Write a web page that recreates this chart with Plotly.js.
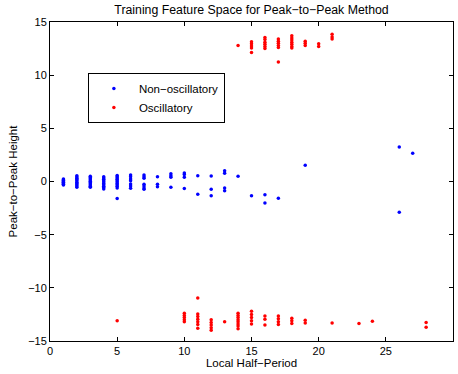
<!DOCTYPE html>
<html>
<head>
<meta charset="utf-8">
<script src="https://cdn.plot.ly/plotly-3.0.1.min.js"></script>
<style>
  html, body { margin: 0; padding: 0; background: #fff; }
  #chart { width: 458px; height: 374px; }
</style>
</head>
<body>
<div id="chart"></div>
<script>
// Non-oscillatory training samples: half-period per column, peak-to-peak heights
const nonOscPeriods = [1, 2, 3, 4, 5, 6, 7, 8, 9, 10, 11, 12, 13, 14, 15, 16, 17, 19, 26, 27];
const nonOscHeights = [
  [0.23, 0.16, 0.1, 0.04, -0.02, -0.08, -0.14, -0.2, -0.27, -0.34],
  [0.55, 0.42, 0.3, 0.18, 0.06, -0.06, -0.18, -0.3, -0.42, -0.55],
  [0.5, 0.38, 0.26, 0.14, 0.02, -0.1, -0.22, -0.34, -0.45, -0.55],
  [0.45, 0.33, 0.2, 0.08, -0.05, -0.18, -0.3, -0.44, -0.57, -0.7],
  [0.57, 0.45, 0.32, 0.2, 0.08, -0.05, -0.18, -0.3, -0.45, -0.6, -1.6],
  [0.61, 0.45, 0.24, 0.08, -0.24, -0.42, -0.64],
  [0.6, 0.45, 0.3, -0.25, -0.42, -0.6, -0.72],
  [0.45, -0.25, -0.5],
  [0.72, 0.55, 0.4, -0.55],
  [0.8, 0.65, 0.4, -0.65],
  [0.55, -1.2],
  [0.52, -0.73, -1.33],
  [1.0, 0.77, -0.61, -0.86],
  [0.49],
  [-1.33],
  [-1.24, -2.02],
  [-1.58],
  [1.52],
  [3.25, -2.9],
  [2.65]
];

// Oscillatory training samples
const oscPeriods = [14, 15, 16, 17, 18, 19, 20, 21,
                    5, 10, 11, 12, 13, 14, 15, 16, 17, 18, 19, 21, 23, 24, 28];
const oscHeights = [
  [12.8],
  [13.15, 12.95, 12.75, 12.55, 12.12],
  [13.55, 13.35, 13.1, 12.9, 12.7, 12.5],
  [13.4, 13.2, 13.0, 12.8, 12.6, 11.25],
  [13.7, 13.5, 13.3, 13.1, 12.9, 12.7, 12.55],
  [13.2, 13.0, 12.8],
  [12.95, 12.7],
  [13.85, 13.6, 13.4],
  [-13.1],
  [-12.4, -12.6, -12.8, -13.0, -13.2],
  [-10.95, -12.45, -12.7, -12.95, -13.2, -13.45, -13.8],
  [-13.0, -13.25, -13.5, -13.75, -14.0],
  [-13.2],
  [-12.4, -12.6, -12.8, -13.0, -13.2, -13.4, -13.6, -13.85],
  [-12.2, -12.5, -12.8, -13.1, -13.4],
  [-12.65, -12.95, -13.5],
  [-12.65, -12.9, -13.2, -13.45],
  [-12.85, -13.1, -13.35],
  [-13.05, -13.3],
  [-13.3],
  [-13.35],
  [-13.15],
  [-13.25, -13.7]
];

const xTickVals = [0, 5, 10, 15, 20, 25, 30];
const yTickVals = [-15, -10, -5, 0, 5, 10, 15];

// expand per-column lists into flat x/y arrays
function flatten(periods, heights) {
  const xs = [], ys = [];
  periods.forEach((p, i) => heights[i].forEach(h => { xs.push(p); ys.push(h); }));
  return { xs, ys };
}
const nonOsc = flatten(nonOscPeriods, nonOscHeights);
const osc = flatten(oscPeriods, oscHeights);

const font = "Liberation Sans, Arial, Helvetica, sans-serif";

const traces = [
  {
    x: nonOsc.xs, y: nonOsc.ys, type: 'scatter', mode: 'markers',
    name: 'Non\u2212oscillatory',
    marker: { color: '#0000ff', size: 3.5 }
  },
  {
    x: osc.xs, y: osc.ys, type: 'scatter', mode: 'markers',
    name: 'Oscillatory',
    marker: { color: '#ff0000', size: 3.5 }
  }
];

const axisCommon = {
  showline: true, linecolor: '#000', linewidth: 1, mirror: 'ticks',
  ticks: 'inside', ticklen: 4, tickcolor: '#000', tickwidth: 1,
  showgrid: false, zeroline: false,
  tickfont: { family: font, size: 11, color: '#000' }
};

const layout = {
  width: 458, height: 374,
  margin: { l: 50, r: 5, t: 22, b: 33 },
  paper_bgcolor: '#fff', plot_bgcolor: '#fff',
  title: {
    text: 'Training Feature Space for Peak\u2212to\u2212Peak Method',
    font: { family: font, size: 12.3, color: '#000' },
    x: 0.5, xref: 'paper', y: 0.975, yanchor: 'middle'
  },
  xaxis: Object.assign({}, axisCommon, {
    range: [0, 30], tickvals: xTickVals, ticktext: xTickVals.map(String),
    title: { text: 'Local Half\u2212Period', font: { family: font, size: 11.5, color: '#000' }, standoff: 2 }
  }),
  yaxis: Object.assign({}, axisCommon, {
    range: [-15, 15], tickvals: yTickVals,
    title: { text: 'Peak\u2212to\u2212Peak Height', font: { family: font, size: 11.5, color: '#000' }, standoff: 8 }
  }),
  showlegend: true,
  legend: {
    x: 0.094, y: 0.84, xanchor: 'left', yanchor: 'top',
    bgcolor: '#fff', bordercolor: '#000', borderwidth: 1,
    font: { family: font, size: 11.5, color: '#000' },
    tracegroupgap: 0, itemsizing: 'trace', itemwidth: 40
  }
};

Plotly.newPlot('chart', traces, layout, { displayModeBar: false, staticPlot: true });
</script>
</body>
</html>
